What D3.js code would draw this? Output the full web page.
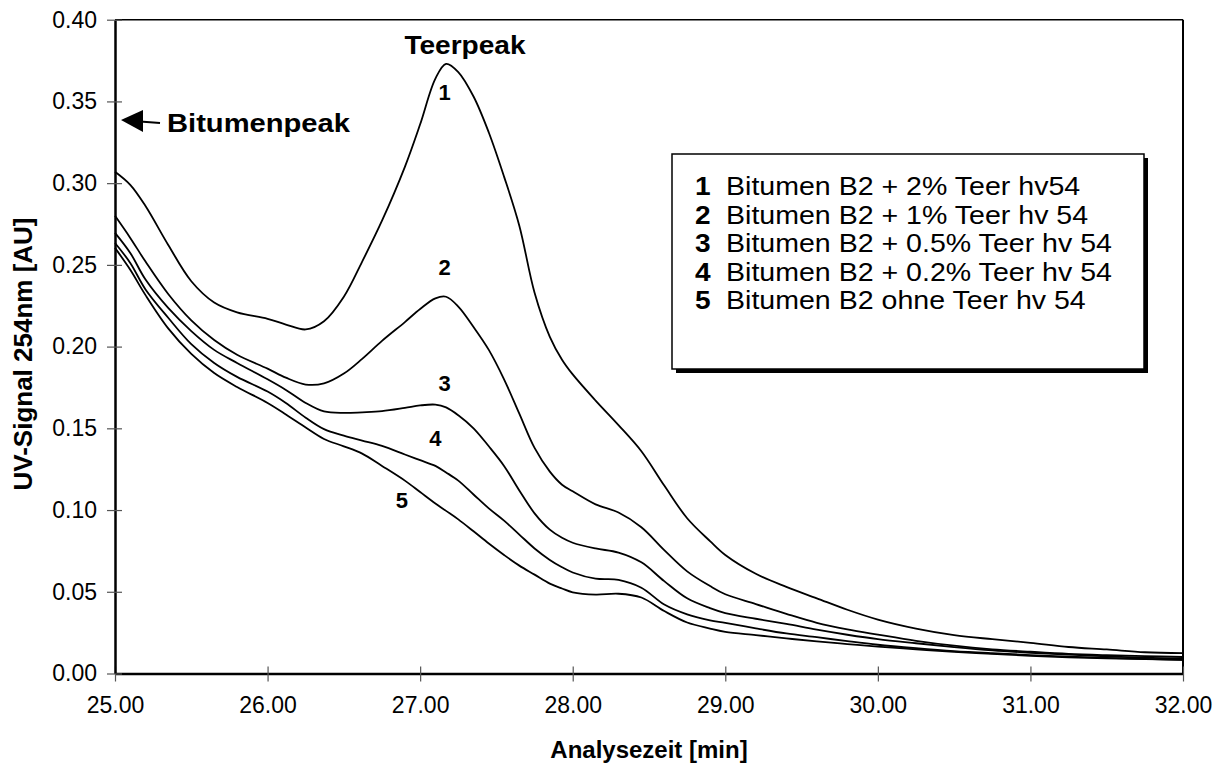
<!DOCTYPE html>
<html><head><meta charset="utf-8">
<script src="https://cdn.jsdelivr.net/npm/d3@7"></script>
<style>body{margin:0;background:#fff}svg{display:block}text{font-family:"Liberation Sans",Arial,sans-serif;fill:#000}</style>
</head><body>
<svg id="c" width="1224" height="765"></svg>
<script>
const time = [25.0,25.1,25.2,25.35,25.5,25.65,25.8,26.0,26.12,26.25,26.37,26.5,26.62,26.75,26.9,27.0,27.1,27.17,27.25,27.35,27.45,27.55,27.65,27.75,27.85,27.93,28.0,28.15,28.3,28.45,28.6,28.75,28.9,29.0,29.2,29.4,29.6,29.8,30.0,30.25,30.5,30.75,31.0,31.25,31.5,31.75,32.0];
const s1 = [0.307,0.299,0.286,0.262,0.240,0.227,0.221,0.217,0.2135,0.2105,0.2155,0.2305,0.252,0.277,0.310,0.336,0.364,0.373,0.368,0.353,0.331,0.304,0.274,0.233,0.206,0.192,0.183,0.167,0.152,0.136,0.115,0.095,0.081,0.0725,0.061,0.053,0.046,0.039,0.033,0.0275,0.0235,0.021,0.0188,0.0162,0.0147,0.013,0.0125];
const s2 = [0.280,0.2665,0.252,0.232,0.216,0.204,0.195,0.1865,0.181,0.1768,0.1775,0.1835,0.1925,0.2035,0.215,0.223,0.2295,0.2305,0.2245,0.212,0.198,0.180,0.159,0.138,0.1235,0.1155,0.1115,0.1035,0.0985,0.0895,0.0755,0.0625,0.0535,0.0485,0.0425,0.0365,0.031,0.027,0.0238,0.020,0.017,0.0148,0.0133,0.012,0.0112,0.0106,0.0101];
const s3 = [0.2696,0.2573,0.241,0.2235,0.2095,0.198,0.190,0.180,0.1735,0.1655,0.1603,0.1594,0.1598,0.1605,0.1625,0.164,0.1645,0.1628,0.158,0.150,0.139,0.127,0.112,0.098,0.088,0.083,0.080,0.0765,0.0740,0.068,0.0565,0.046,0.040,0.037,0.0335,0.0303,0.0268,0.0237,0.021,0.0185,0.0162,0.0142,0.0127,0.0115,0.0105,0.0097,0.0089];
const s4 = [0.2634,0.2512,0.235,0.2175,0.2015,0.190,0.1815,0.1725,0.1655,0.1565,0.1495,0.1455,0.1425,0.1392,0.134,0.1305,0.127,0.123,0.118,0.1095,0.101,0.0935,0.085,0.0765,0.0695,0.065,0.0618,0.058,0.0573,0.0525,0.0422,0.0362,0.0325,0.031,0.0276,0.0245,0.0222,0.0198,0.0176,0.0155,0.0137,0.0124,0.0113,0.0103,0.0096,0.0089,0.0083];
const s5 = [0.2604,0.247,0.2315,0.211,0.1955,0.1838,0.1753,0.1655,0.1585,0.1505,0.1435,0.139,0.1345,0.127,0.118,0.111,0.104,0.0995,0.0943,0.087,0.0795,0.0725,0.066,0.0605,0.055,0.052,0.0497,0.0483,0.0488,0.0465,0.0382,0.0312,0.0275,0.0255,0.0235,0.0215,0.0196,0.018,0.0165,0.0148,0.0132,0.012,0.0108,0.0099,0.0093,0.0088,0.0083];
const series = [s1,s2,s3,s4,s5];
const seriesIds = ["1","2","3","4","5"];
const legendLabels = ["Bitumen B2 + 2% Teer hv54","Bitumen B2 + 1% Teer hv 54","Bitumen B2 + 0.5% Teer hv 54","Bitumen B2 + 0.2% Teer hv 54","Bitumen B2 ohne Teer hv 54"];
const xTicks = [25,26,27,28,29,30,31,32];
const yTicks = [0,0.05,0.10,0.15,0.20,0.25,0.30,0.35,0.40];
// curve label anchor points (time, value)
const labelTime = [27.16,27.16,27.16,27.10,26.88];
const labelValue = [0.351,0.244,0.173,0.139,0.101];

const svg = d3.select("#c");
const x = d3.scaleLinear().domain([25,32]).range([115,1183]);
const y = d3.scaleLinear().domain([0,0.4]).range([673.5,19.7]);

// frame
svg.append("line").attr("x1",x(25)).attr("x2",x(32)).attr("y1",y(0.4)).attr("y2",y(0.4)).attr("stroke","#000").attr("stroke-width",1.5);
svg.append("line").attr("x1",x(32)).attr("x2",x(32)).attr("y1",y(0.4)).attr("y2",y(0)).attr("stroke","#000").attr("stroke-width",2);

// axes
const gx = svg.append("g").attr("transform",`translate(0,${y(0)})`)
  .call(d3.axisBottom(x).tickValues(xTicks).tickFormat(d3.format(".2f")).tickSizeInner(8).tickSizeOuter(0).tickPadding(20));
gx.select(".domain").attr("stroke-width",2.5);
gx.selectAll(".tick line").attr("y1",-7).attr("y2",8).attr("stroke","#555").attr("stroke-width",1.2);
gx.selectAll(".tick text").attr("font-size",23).attr("font-family","Liberation Sans, Arial, sans-serif").attr("dy","0.5em");

const gy = svg.append("g").attr("transform",`translate(${x(25)},0)`)
  .call(d3.axisLeft(y).tickValues(yTicks).tickFormat(d3.format(".2f")).tickSizeInner(8).tickSizeOuter(0).tickPadding(10));
gy.select(".domain").attr("stroke-width",2.5);
gy.selectAll(".tick line").attr("x1",-8).attr("x2",7).attr("stroke","#555").attr("stroke-width",1.2);
gy.selectAll(".tick text").attr("font-size",23).attr("font-family","Liberation Sans, Arial, sans-serif");

// lines
const line = d3.line().x((d,i)=>x(time[i])).y(d=>y(d)).curve(d3.curveCatmullRom.alpha(0.5));
svg.append("g").selectAll("path").data(series).join("path")
  .attr("d",line).attr("fill","none").attr("stroke","#000").attr("stroke-width",1.8);

// curve numbers
svg.append("g").selectAll("text").data(seriesIds).join("text")
  .attr("x",(d,i)=>x(labelTime[i])).attr("y",(d,i)=>y(labelValue[i]))
  .attr("text-anchor","middle").attr("font-size",22).attr("font-weight","bold").text(d=>d);

// titles
svg.append("text").attr("x",(x(25)+x(32))/2).attr("y",758).attr("text-anchor","middle")
  .attr("font-size",24).attr("font-weight","bold").text("Analysezeit [min]");
svg.append("text").attr("transform","translate(32,354) rotate(-90)").attr("text-anchor","middle")
  .attr("font-size",26).attr("font-weight","bold").text("UV-Signal 254nm [AU]");

// annotations
svg.append("text").attr("transform","translate(465,54) scale(1.08,1)").attr("text-anchor","middle")
  .attr("font-size",26).attr("font-weight","bold").text("Teerpeak");
svg.append("text").attr("transform","translate(167,132) scale(1.1,1)")
  .attr("font-size",26.5).attr("font-weight","bold").text("Bitumenpeak");
svg.append("line").attr("x1",140).attr("y1",121.5).attr("x2",160).attr("y2",123).attr("stroke","#000").attr("stroke-width",2.2);
svg.append("path").attr("d","M121,120 L143,110 L143,132 Z").attr("fill","#000");

// legend
const lg = svg.append("g");
lg.append("rect").attr("x",676).attr("y",158).attr("width",472).attr("height",215).attr("fill","#000");
lg.append("rect").attr("x",672).attr("y",154).attr("width",472).attr("height",215).attr("fill","#fff").attr("stroke","#000").attr("stroke-width",1.5);
legendLabels.forEach((t,i)=>{
  const by = 195 + i*28.5;
  lg.append("text").attr("transform",`translate(695,${by}) scale(1.1,1)`).attr("font-size",25.5).attr("font-weight","bold").text(seriesIds[i]);
  lg.append("text").attr("transform",`translate(726,${by}) scale(1.12,1)`).attr("font-size",25.5).text(t);
});
</script>
</body></html>
